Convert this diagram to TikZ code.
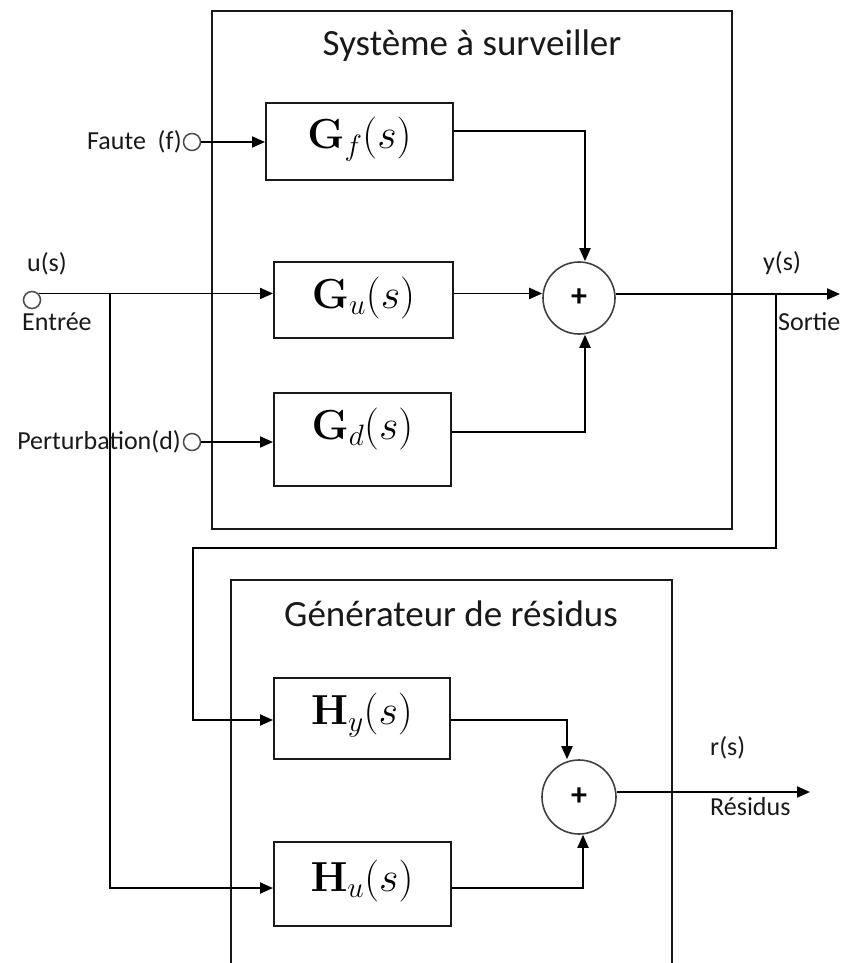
\documentclass[tikz,border=0pt]{standalone}
\usepackage{fix-cm}
\usepackage[no-math]{fontspec}
\setmainfont{Carlito}
\usetikzlibrary{arrows.meta,calc}
\begin{document}
\begin{tikzpicture}[x=1pt,y=-1pt,
  wire/.style={line width=1.9pt, draw=black},
  arr/.style={wire, -{Triangle[length=13pt,width=11pt]}},
  boxline/.style={line width=2pt, draw=black!90},
  blk/.style={draw=black!90, line width=2pt, inner sep=0pt, fill=none},
  mathlab/.style={inner sep=0pt, font=\fontsize{42}{48}\selectfont},
  lab/.style={inner sep=0pt, font=\fontsize{26}{30}\selectfont, text=black!90},
  titlelab/.style={inner sep=0pt, font=\fontsize{37}{44}\selectfont, text=black!90},
  sumnode/.style={circle, draw=black!75, line width=1.6pt, minimum size=72pt, inner sep=0pt, font=\fontsize{32}{36}\selectfont\bfseries},
  port/.style={circle, draw=black!70, line width=1.5pt, minimum size=17pt, inner sep=0pt}]
\useasboundingbox (0,0) rectangle (841,963);

% containers
\node[blk, minimum width=520pt, minimum height=518pt] (sys) at (472,270) {};
\node[titlelab] (syst) at (472,46) {Système à surveiller};
\draw[boxline] (231,966) -- (231,580) -- (672,580) -- (672,966);
\node[titlelab] (gent) at (451,614) {Générateur de résidus};

% blocks
\node[blk, minimum width=187pt, minimum height=77pt] (Gf) at (359.5,141.5) {};
\node[mathlab] (Gfl) at (359.5,139) {$\mathbf{G}_f(s)$};
\node[blk, minimum width=179pt, minimum height=76pt] (Gu) at (363.5,300) {};
\node[mathlab] (Gul) at (363.5,298) {$\mathbf{G}_u(s)$};
\node[blk, minimum width=177pt, minimum height=93pt] (Gd) at (362.5,439.5) {};
\node[mathlab] (Gdl) at (362.5,429) {$\mathbf{G}_d(s)$};
\node[blk, minimum width=176pt, minimum height=81pt] (Hy) at (362,718.5) {};
\node[mathlab] (Hyl) at (362,715) {$\mathbf{H}_y(s)$};
\node[blk, minimum width=177pt, minimum height=84pt] (Hu) at (362.5,884) {};
\node[mathlab] (Hul) at (362,881) {$\mathbf{H}_u(s)$};

% summing junctions
\node[sumnode] (s1) at (579,298) {+};
\node[sumnode, minimum size=74pt] (s2) at (579,797) {+};

% ports
\node[port] (fin) at (192,142) {};
\node[port] (uin) at (32,300) {};
\node[port] (pin) at (192,442) {};

% labels
\node[lab, anchor=east] (fl) at (182,142) {Faute~~(f)};
\node[lab, anchor=east] (pl) at (181,442) {Perturbation(d)};
\node[lab, anchor=west] (ul) at (27,264) {u(s)};
\node[lab, anchor=west] (el) at (22,322) {Entrée};
\node[lab, anchor=west] (yl) at (763,263) {y(s)};
\node[lab, anchor=west] (sl) at (778,322) {Sortie};
\node[lab, anchor=west] (rl) at (710,748) {r(s)};
\node[lab, anchor=west] (resl) at (710,807) {Résidus};

% free ends
\coordinate (bu) at (110,294);
\coordinate (fb) at (776,294);
\coordinate (fb2) at (776,548);
\coordinate (fb3) at (193,548);
\coordinate (yout) at (840,294);
\coordinate (rout) at (810,792);

% connectors
\draw[arr] (fin.east) -- (Gf.west |- fin.east);
\draw[arr] (pin.east) -- (Gd.west |- pin.east);
\draw[arr] (uin.north east) -- (uin.north east -| Gu.west);
\draw[arr] (bu) |- ($(Hu.west)+(0,4)$);
\draw[arr] (Gu.east |- uin.north east) -- (uin.north east -| s1.west);
\draw[arr] ($(Gf.east)+(0,-10.5)$) -| ($(s1.north)+(6,0)$);
\draw[arr] ($(Gd.east)+(0,-7.5)$) -| ($(s1.south)+(6,0)$);
\draw[arr] (s1.east |- fb) -- (yout);
\draw[arr] (fb) -- (fb2) -- (fb3) |- ($(Hy.west)+(0,1.5)$);
\draw[arr] ($(Hy.east)+(0,1.5)$) -| ($(s2.north)+(-12,0)$);
\draw[arr] ($(Hu.east)+(0,4)$) -| ($(s2.south)+(4,0)$);
\draw[arr] ($(s2.east)+(0,-5)$) -- (rout);
\end{tikzpicture}
\end{document}
